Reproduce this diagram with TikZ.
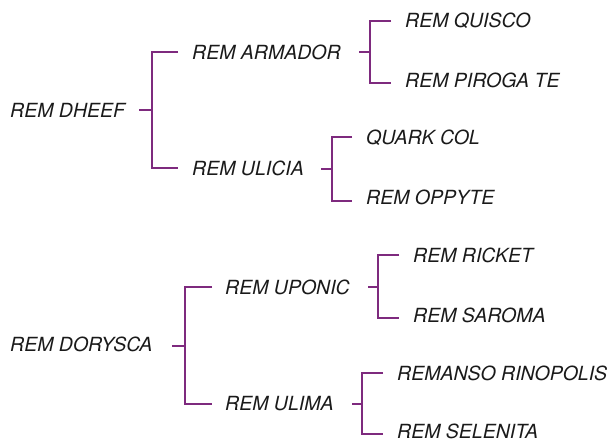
\documentclass[tikz,border=0pt]{standalone}
\usepackage{fontspec}
\setmainfont{TeX Gyre Heros}
\definecolor{purp}{HTML}{7E2A7E}
\definecolor{ink}{HTML}{1A1A1A}
\begin{document}
\begin{tikzpicture}[x=1pt,y=-1pt,
  lbl/.style={anchor=west, inner sep=0pt, text=ink, font=\fontsize{19.5}{22}\selectfont\itshape},
  br/.style={draw=purp, line width=1.7pt},
  stub/.style={draw=purp, line width=2.2pt}]
\useasboundingbox[fill=white] (0,0) rectangle (616,439);
% ---------- tree 1 ----------
\node[lbl] (r1) at (10,110) {REM DHEEF};
\node[lbl] (a1) at (192,52) {REM ARMADOR};
\node[lbl] (a2) at (192,168) {REM ULICIA};
\node[lbl] (b1) at (405,21) {REM QUISCO};
\node[lbl] (b2) at (405,80) {REM PIROGA TE};
\node[lbl] (b3) at (366,138) {QUARK COL};
\node[lbl] (b4) at (366,197) {REM OPPYTE};
% junctions and ends
\coordinate (s1) at (139,110); \coordinate (j1) at (152,110);
\coordinate (e1u) at (178,52); \coordinate (e1d) at (178,168);
\coordinate (s2) at (359,52); \coordinate (j2) at (370,52);
\coordinate (e2u) at (391,21); \coordinate (e2d) at (391,83);
\coordinate (s3) at (321,169); \coordinate (j3) at (332,169);
\coordinate (e3u) at (352,137); \coordinate (e3d) at (352,201);
\draw[stub] (s1) -- (j1);
\draw[br] (e1u) -| (j1) |- (e1d);
\draw[stub] (s2) -- (j2);
\draw[br] (e2u) -| (j2) |- (e2d);
\draw[stub] (s3) -- (j3);
\draw[br] (e3u) -| (j3) |- (e3d);
% ---------- tree 2 ----------
\node[lbl] (r2) at (10,344) {REM DORYSCA};
\node[lbl] (a3) at (225,287) {REM UPONIC};
\node[lbl] (a4) at (225,404) {REM ULIMA};
\node[lbl] (b5) at (413,255) {REM RICKET};
\node[lbl] (b6) at (413,315) {REM SAROMA};
\node[lbl] (b7) at (397,373) {REMANSO RINOPOLIS};
\node[lbl] (b8) at (397,431) {REM SELENITA};
\coordinate (s4) at (172,346); \coordinate (j4) at (185,346);
\coordinate (e4u) at (212,287); \coordinate (e4d) at (212,404);
\coordinate (s5) at (368,287); \coordinate (j5) at (378,287);
\coordinate (e5u) at (399,255); \coordinate (e5d) at (399,318);
\coordinate (s6) at (352,404); \coordinate (j6) at (362,404);
\coordinate (e6u) at (383,373); \coordinate (e6d) at (383,434);
\draw[stub] (s4) -- (j4);
\draw[br] (e4u) -| (j4) |- (e4d);
\draw[stub] (s5) -- (j5);
\draw[br] (e5u) -| (j5) |- (e5d);
\draw[stub] (s6) -- (j6);
\draw[br] (e6u) -| (j6) |- (e6d);
\end{tikzpicture}
\end{document}
